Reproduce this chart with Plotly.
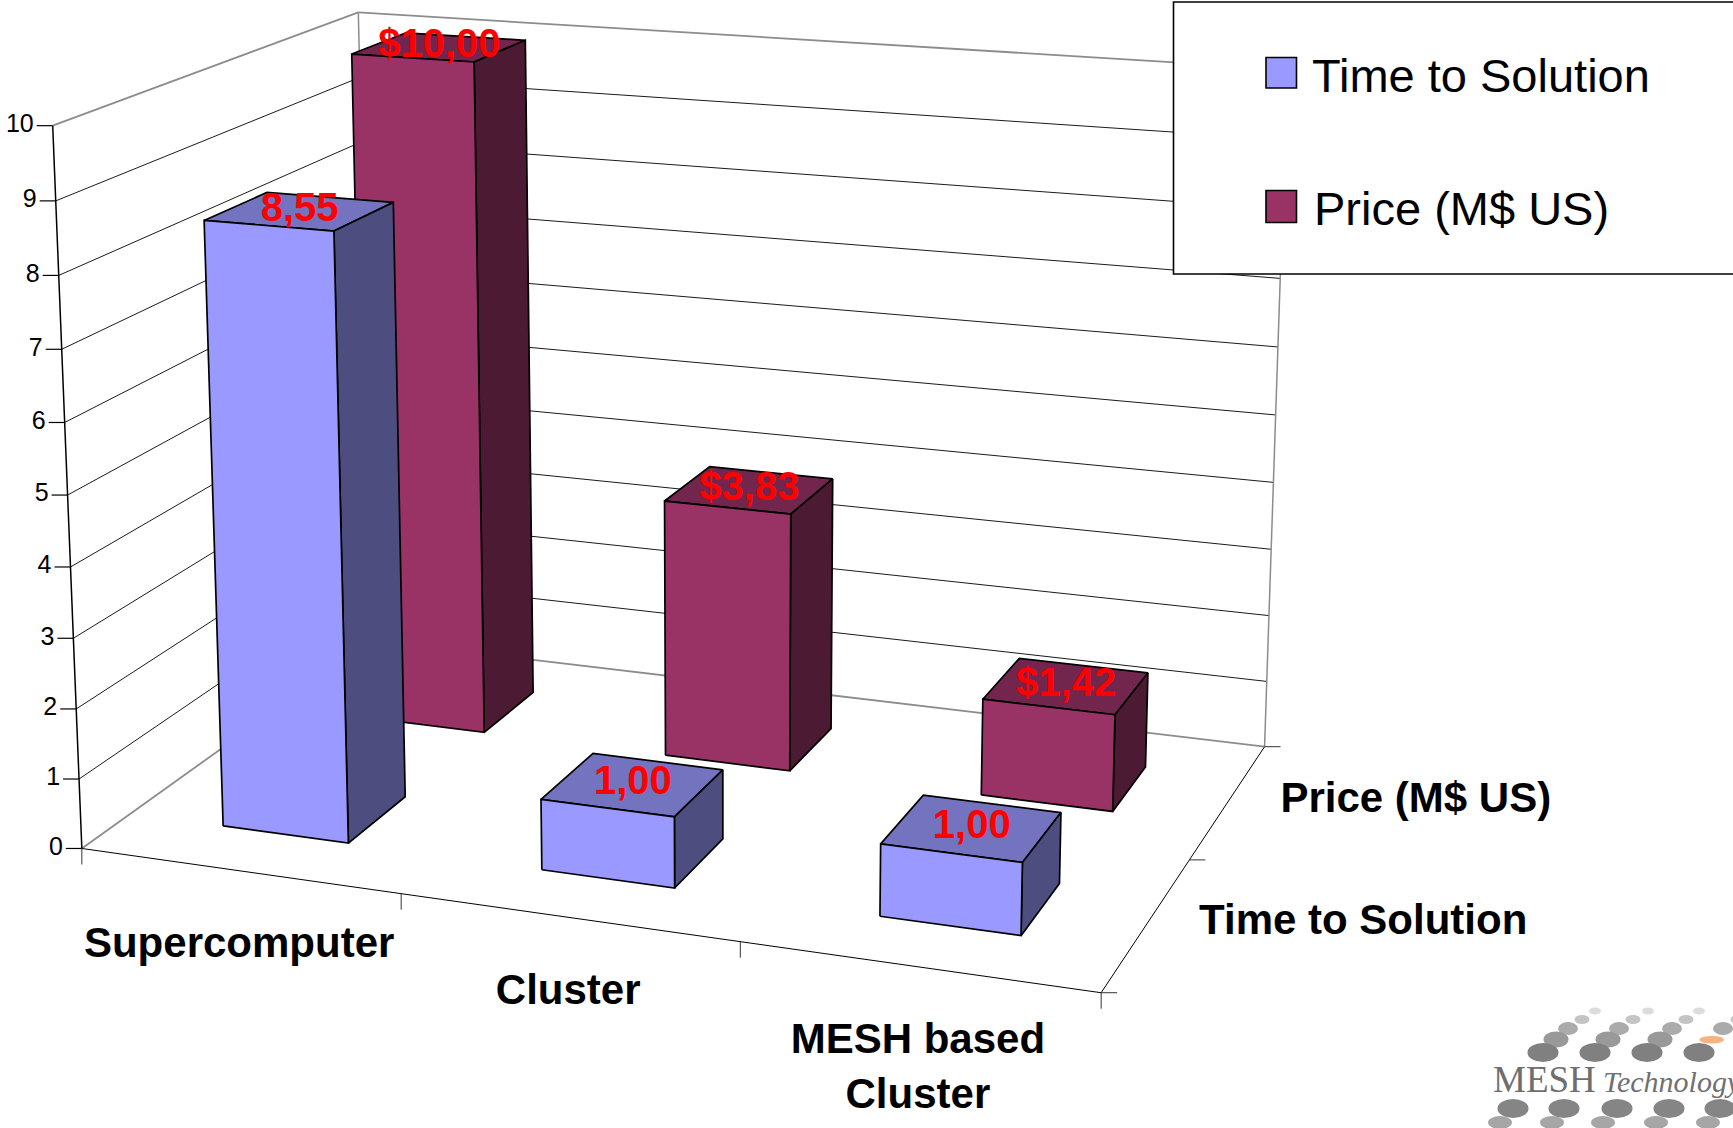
import numpy as np
import plotly.graph_objects as go

# Chart data
categories = ["Supercomputer", "Cluster", "MESH based<br>Cluster"]
series_names = ["Time to Solution", "Price (M$ US)"]
time_to_solution = [8.55, 1.00, 1.00]
price_musd = [10.00, 3.83, 1.42]
value_ticks = [0, 1, 2, 3, 4, 5, 6, 7, 8, 9, 10]

# Styling of the two series: front, top and side faces
FRONT = ["#9999FF", "#993366"]
TOP = ["#7373BF", "#73264D"]
SIDE = ["#4D4D80", "#4D1A33"]
VALUE_MAX = 10
BAR_SHARE = 0.4  # share of a category / series cell taken by a bar
SANS = "Liberation Sans"
SERIF = "Liberation Serif"

# Perspective view of the unit chart box, in page pixels
VIEW = np.array([
    [922.8796991, 349.0801389, -31.4267859, 81.8433905],
    [57.3284075, -106.4237377, -728.232226, 848.4683693],
    [-0.0875665, 0.1581285, -0.0432521, 1.0],
])


def project(x, y, v):
    """Page position of category-fraction x, depth-fraction y and value v."""
    q = VIEW @ np.array([x, y, v / VALUE_MAX, 1.0])
    return q[0] / q[2], q[1] / q[2]


def path(corners):
    pts = [project(*c) for c in corners]
    pts.append(pts[0])
    return [p[0] for p in pts] + [None], [p[1] for p in pts] + [None]


def add_line(fig, a, b, color, width, name=None):
    pa, pb = project(*a), project(*b)
    fig.add_trace(go.Scatter(x=[pa[0], pb[0]], y=[pa[1], pb[1]], mode="lines",
                             line=dict(color=color, width=width),
                             hoverinfo="skip", showlegend=False, name=name))


def add_offset_line(fig, a, dx, dy, color, width):
    p = project(*a)
    fig.add_trace(go.Scatter(x=[p[0], p[0] + dx], y=[p[1], p[1] + dy], mode="lines",
                             line=dict(color=color, width=width),
                             hoverinfo="skip", showlegend=False))


fig = go.Figure()

# Gridlines on the side and back walls
for v in value_ticks[1:-1]:
    add_line(fig, (0, 0, v), (0, 1, v), "#1a1a1a", 1)
    add_line(fig, (0, 1, v), (1, 1, v), "#1a1a1a", 1)

# Wall and floor outline
GRAY = "#8c8c8c"
add_line(fig, (0, 0, VALUE_MAX), (0, 1, VALUE_MAX), GRAY, 1.8)
add_line(fig, (0, 1, VALUE_MAX), (1, 1, VALUE_MAX), GRAY, 1.8)
add_line(fig, (0, 1, 0), (0, 1, VALUE_MAX), GRAY, 1.5)
add_line(fig, (1, 1, 0), (1, 1, VALUE_MAX), GRAY, 1.5)
add_line(fig, (0, 0, 0), (0, 1, 0), GRAY, 1.8)
add_line(fig, (0, 1, 0), (1, 1, 0), GRAY, 1.8)

# Axis lines and tick marks
add_line(fig, (0, 0, 0), (0, 0, VALUE_MAX), "#000000", 1.5)
add_line(fig, (0, 0, 0), (1, 0, 0), "#000000", 1)
add_line(fig, (1, 0, 0), (1, 1, 0), "#000000", 1)
for v in value_ticks:
    add_offset_line(fig, (0, 0, v), -16, 0, "#000000", 1.2)
n_cat = len(categories)
n_ser = len(series_names)
for i in range(n_cat + 1):
    add_offset_line(fig, (i / n_cat, 0, 0), 0, 16, "#333333", 1)
for s in range(n_ser + 1):
    add_offset_line(fig, (1, s / n_ser, 0), 16, 0, "#333333", 1)

# Bars, farthest series first
margin_x = (1 - BAR_SHARE) / 2 / n_cat
margin_y = (1 - BAR_SHARE) / 2 / n_ser
values = [time_to_solution, price_musd]
for s in reversed(range(n_ser)):
    y0 = s / n_ser + margin_y
    y1 = (s + 1) / n_ser - margin_y
    faces = {"top": ([], []), "side": ([], []), "front": ([], [])}
    for i, v in enumerate(values[s]):
        x0 = i / n_cat + margin_x
        x1 = (i + 1) / n_cat - margin_x
        for key, corners in (
            ("top", [(x0, y0, v), (x1, y0, v), (x1, y1, v), (x0, y1, v)]),
            ("side", [(x1, y0, 0), (x1, y1, 0), (x1, y1, v), (x1, y0, v)]),
            ("front", [(x0, y0, 0), (x1, y0, 0), (x1, y0, v), (x0, y0, v)]),
        ):
            px, py = path(corners)
            faces[key][0].extend(px)
            faces[key][1].extend(py)
    for key, col in (("top", TOP[s]), ("side", SIDE[s]), ("front", FRONT[s])):
        fig.add_trace(go.Scatter(x=faces[key][0], y=faces[key][1], mode="lines", fill="toself",
                                 fillcolor=col, line=dict(color="#000000", width=1.7),
                                 hoverinfo="skip", showlegend=False, name=series_names[s]))

# Value labels at the centre of each bar top
for s in range(n_ser):
    y_mid = (s + 0.5) / n_ser
    pts = [project((i + 0.5) / n_cat, y_mid, v) for i, v in enumerate(values[s])]
    prefix = "$" if s == 1 else ""
    fig.add_trace(go.Scatter(
        x=[p[0] for p in pts], y=[p[1] for p in pts], mode="text",
        text=[prefix + f"{v:.2f}".replace(".", ",") for v in values[s]],
        textposition="middle center",
        textfont=dict(family=SANS, size=40, color="#FF0000", weight="bold"),
        hoverinfo="skip", showlegend=False))

# Value axis tick labels
tick_pts = [project(0, 0, v) for v in value_ticks]
fig.add_trace(go.Scatter(
    x=[p[0] - 19 for p in tick_pts], y=[p[1] for p in tick_pts], mode="text",
    text=[str(v) for v in value_ticks], textposition="middle left",
    textfont=dict(family=SANS, size=25, color="#000000"),
    hoverinfo="skip", showlegend=False))

# Category labels under the front edge
cat_pts = [project((i + 0.5) / n_cat, 0, 0) for i in range(n_cat)]
fig.add_trace(go.Scatter(
    x=[p[0] for p in cat_pts], y=[p[1] + 55 for p in cat_pts], mode="text",
    text=categories, textposition="bottom center",
    textfont=dict(family=SANS, size=42, color="#000000", weight="bold"),
    hoverinfo="skip", showlegend=False))

# Series labels beside the right edge
ser_pts = [project(1, (s + 0.5) / n_ser, 0) for s in range(n_ser)]
fig.add_trace(go.Scatter(
    x=[p[0] + 52 for p in ser_pts], y=[p[1] for p in ser_pts], mode="text",
    text=series_names, textposition="middle right",
    textfont=dict(family=SANS, size=42, color="#000000", weight="bold"),
    hoverinfo="skip", showlegend=False))

# Legend panel
shapes = [dict(type="rect", x0=1173.5, y0=2, x1=1760, y1=274, xref="x", yref="y",
               fillcolor="#FFFFFF", line=dict(color="#000000", width=1.6), layer="above")]
annotations = []
for s, (y_top, y_bot, y_text, x_text) in enumerate([(57.5, 88, 75, 1310), (190.5, 222.5, 208, 1312)]):
    shapes.append(dict(type="rect", x0=1266, y0=y_top, x1=1296.5, y1=y_bot, xref="x", yref="y",
                       fillcolor=FRONT[s], line=dict(color="#000000", width=1.6), layer="above"))
    annotations.append(dict(x=x_text, y=y_text, xref="x", yref="y", text=series_names[s], showarrow=False,
                            xanchor="left", yanchor="middle", font=dict(family=SANS, size=47, color="#000000")))

# Company mark in the lower right corner
LOGO_ROWS = [
    (1011, [1595, 1648, 1699], 12, 3.5, "#dcdcdc"),
    (1019.5, [1582, 1633, 1686, 1738], 15, 4.5, "#c4c4c4"),
    (1028.5, [1568, 1619, 1672, 1723], 20, 6.5, "#ababab"),
    (1039.5, [1556, 1608, 1660], 25, 8, "#999999"),
    (1052.5, [1543, 1595, 1647, 1699], 31, 9.5, "#808080"),
    (1108.5, [1513, 1564, 1617, 1669, 1720], 31, 9.5, "#858585"),
    (1122.5, [1500, 1552, 1603, 1656, 1708], 24, 6.5, "#a6a6a6"),
]
for row_y, row_x, dx, dy, col in LOGO_ROWS:
    for cx in row_x:
        shapes.append(dict(type="circle", x0=cx - dx / 2 * 1.0, x1=cx + dx / 2 * 1.0, y0=row_y - dy, y1=row_y + dy,
                           xref="x", yref="y", fillcolor=col, line=dict(width=0), layer="above"))
shapes.append(dict(type="circle", x0=1699.5, x1=1724, y0=1036, y1=1043.5, xref="x", yref="y",
                   fillcolor="#F8B27E", line=dict(width=0), layer="above"))
annotations.append(dict(x=1491, y=1079.5, xref="x", yref="y", text="MESH", showarrow=False, xanchor="left",
                        yanchor="middle", font=dict(family=SERIF, size=37, color="#6e6e6e")))
annotations.append(dict(x=1601, y=1081, xref="x", yref="y", text="<i>Technology</i>", showarrow=False,
                        xanchor="left", yanchor="middle", font=dict(family=SERIF, size=30, color="#707070")))

fig.update_layout(
    width=1733, height=1128, margin=dict(l=0, r=0, t=0, b=0),
    paper_bgcolor="#FFFFFF", plot_bgcolor="#FFFFFF", showlegend=False,
    xaxis=dict(range=[0, 1733], visible=False, fixedrange=True),
    yaxis=dict(range=[1128, 0], visible=False, fixedrange=True),
    shapes=shapes, annotations=annotations,
)
fig.write_html("out.html", config=dict(displayModeBar=False))
